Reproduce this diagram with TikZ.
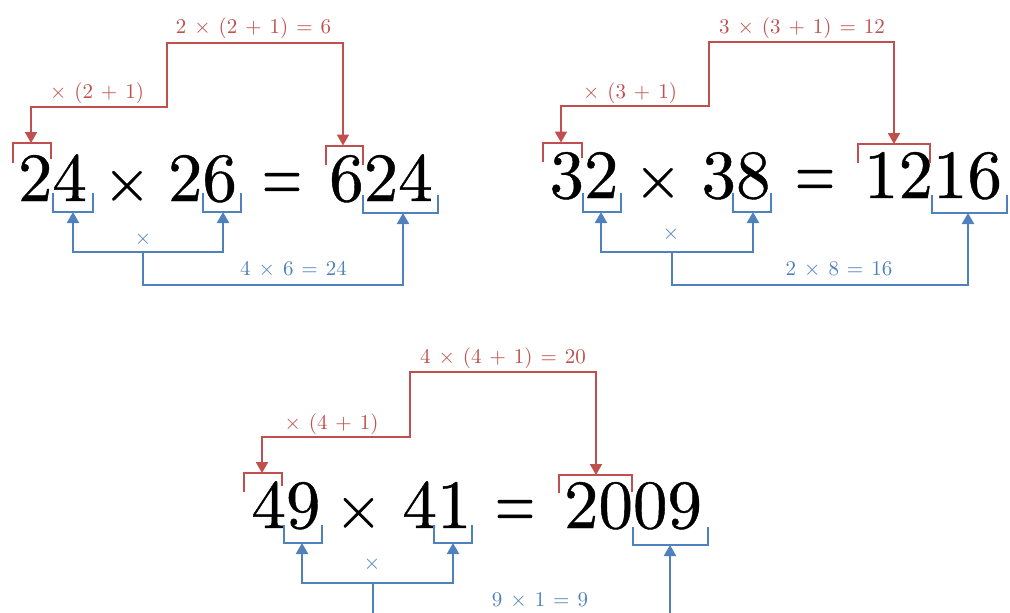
\documentclass[tikz,border=0pt]{standalone}
\usepackage{fontspec}
\usepackage{graphicx}
\setmainfont{lmroman10-regular.otf}
\newfontfamily\bigfnt{lmroman10-regular.otf}[FakeBold=0.6]
\usetikzlibrary{arrows.meta}
\definecolor{redc}{HTML}{C0504D}
\definecolor{bluec}{HTML}{4F81BD}
\newcommand\gp{\hspace{0.38em}}
\newcommand\eqs{\scalebox{0.75}[1.1]{=}}
\newcommand\tms{\scalebox{0.88}{×}}
\tikzset{
  big/.style={inner sep=0pt, anchor=base, font=\bigfnt\fontsize{69}{80}\selectfont},
  lab/.style={inner sep=0pt, anchor=base, font=\fontsize{21}{24}\selectfont},
  rlab/.style={lab, text=redc},
  blab/.style={lab, text=bluec},
  rline/.style={draw=redc, line width=2pt},
  bline/.style={draw=bluec, line width=2pt},
  rboth/.style={rline, {Triangle[width=12pt,length=11pt]}-{Triangle[width=12pt,length=11pt]}},
  bboth/.style={bline, {Triangle[width=12pt,length=11pt]}-{Triangle[width=12pt,length=11pt]}},
  bonearr/.style={bline, -{Triangle[width=12pt,length=11pt]}},
}
\begin{document}
\begin{tikzpicture}[x=1pt,y=-1pt]
\path[use as bounding box, clip] (0,0) rectangle (1010,613);
\fill[white] (0,0) rectangle (1010,613);

% ================= Diagram 1 =================
\node[big] (d1a) at (52.5,201) {24};
\node[big] (d1x) at (127,201) {\tms};
\node[big] (d1b) at (202.5,201) {26};
\node[big] (d1e) at (282,201) {\eqs};
\node[big] (d1c) at (381,201) {624};
% red brackets
\draw[rline] (13,163) |- (51,143) -- (51,159);
\draw[rline] (326,165) |- (363,145.5) -- (363,165);
\coordinate (d1ra) at (31,143);
\coordinate (d1rc) at (343,145.5);
\coordinate (d1step) at (167,107);
\coordinate (d1top) at (167,43);
\draw[rboth] (d1ra) |- (d1step) -- (d1top) -| (d1rc);
\node[rlab] (d1lt) at (253.5,33.5) {2\gp×\gp(2\gp+\gp1)\gp=\gp6};
\node[rlab] (d1ll) at (97,98) {×\gp(2\gp+\gp1)};
% blue brackets
\draw[bline] (53,193) |- (93,212) -- (93,193);
\draw[bline] (203,193) |- (241,212) -- (241,193);
\draw[bline] (363,195) |- (438,213) -- (438,195);
\coordinate (d1ba) at (73,212);
\coordinate (d1bb) at (223,212);
\coordinate (d1bc) at (403,213);
\coordinate (d1bm) at (143,252);
\coordinate (d1bl) at (143,285);
\draw[bboth] (d1ba) |- (d1bm) -| (d1bb);
\draw[bonearr] (d1bm) -- (d1bl) -| (d1bc);
\node[blab] (d1lx) at (143,244) {×};
\node[blab] (d1lr) at (293.5,275) {4\gp×\gp6\gp=\gp24};

% ================= Diagram 2 =================
\node[big] (d2a) at (584,198) {32};
\node[big] (d2x) at (658,198) {\tms};
\node[big] (d2b) at (736,198) {38};
\node[big] (d2e) at (815,198) {\eqs};
\node[big] (d2c) at (933,198) {1216};
\draw[rline] (543,162) |- (582,142.5) -- (582,158);
\draw[rline] (858,163) |- (930,144) -- (930,163);
\coordinate (d2ra) at (561,142.5);
\coordinate (d2rc) at (894,144);
\coordinate (d2step) at (709,106);
\coordinate (d2top) at (709,42);
\draw[rboth] (d2ra) |- (d2step) -- (d2top) -| (d2rc);
\node[rlab] (d2lt) at (802,33) {3\gp×\gp(3\gp+\gp1)\gp=\gp12};
\node[rlab] (d2ll) at (630,98) {×\gp(3\gp+\gp1)};
\draw[bline] (583,193) |- (621,212) -- (621,193);
\draw[bline] (733,193) |- (771,212) -- (771,193);
\draw[bline] (932,195) |- (1007,213) -- (1007,195);
\coordinate (d2ba) at (601,212);
\coordinate (d2bb) at (753,212);
\coordinate (d2bc) at (968,213);
\coordinate (d2bm) at (672,252);
\coordinate (d2bl) at (672,285);
\draw[bboth] (d2ba) |- (d2bm) -| (d2bb);
\draw[bonearr] (d2bm) -- (d2bl) -| (d2bc);
\node[blab] (d2lx) at (671,239) {×};
\node[blab] (d2lr) at (839,275) {2\gp×\gp8\gp=\gp16};

% ================= Diagram 3 =================
\node[big] (d3a) at (286,528) {49};
\node[big] (d3x) at (358.5,528) {\tms};
\node[big] (d3b) at (437,528) {41};
\node[big] (d3e) at (515,528) {\eqs};
\node[big] (d3c) at (633,528) {2009};
\draw[rline] (244,492) |- (282,473) -- (282,486);
\draw[rline] (559,493) |- (632,475) -- (632,492);
\coordinate (d3ra) at (262,473);
\coordinate (d3rc) at (596,475);
\coordinate (d3step) at (410,437);
\coordinate (d3top) at (410,372);
\draw[rboth] (d3ra) |- (d3step) -- (d3top) -| (d3rc);
\node[rlab] (d3lt) at (503,363) {4\gp×\gp(4\gp+\gp1)\gp=\gp20};
\node[rlab] (d3ll) at (331.5,429) {×\gp(4\gp+\gp1)};
\draw[bline] (284,525) |- (322,543) -- (322,525);
\draw[bline] (434,525) |- (472,543) -- (472,525);
\draw[bline] (633,527) |- (708,545) -- (708,527);
\coordinate (d3ba) at (302,543);
\coordinate (d3bb) at (453,543);
\coordinate (d3bc) at (670,545);
\coordinate (d3bm) at (373,583);
\coordinate (d3bl) at (373,616);
\draw[bboth] (d3ba) |- (d3bm) -| (d3bb);
\draw[bonearr] (d3bm) -- (d3bl) -| (d3bc);
\node[blab] (d3lx) at (372,569) {×};
\node[blab] (d3lr) at (540,606) {9\gp×\gp1\gp=\gp9};
\end{tikzpicture}
\end{document}
